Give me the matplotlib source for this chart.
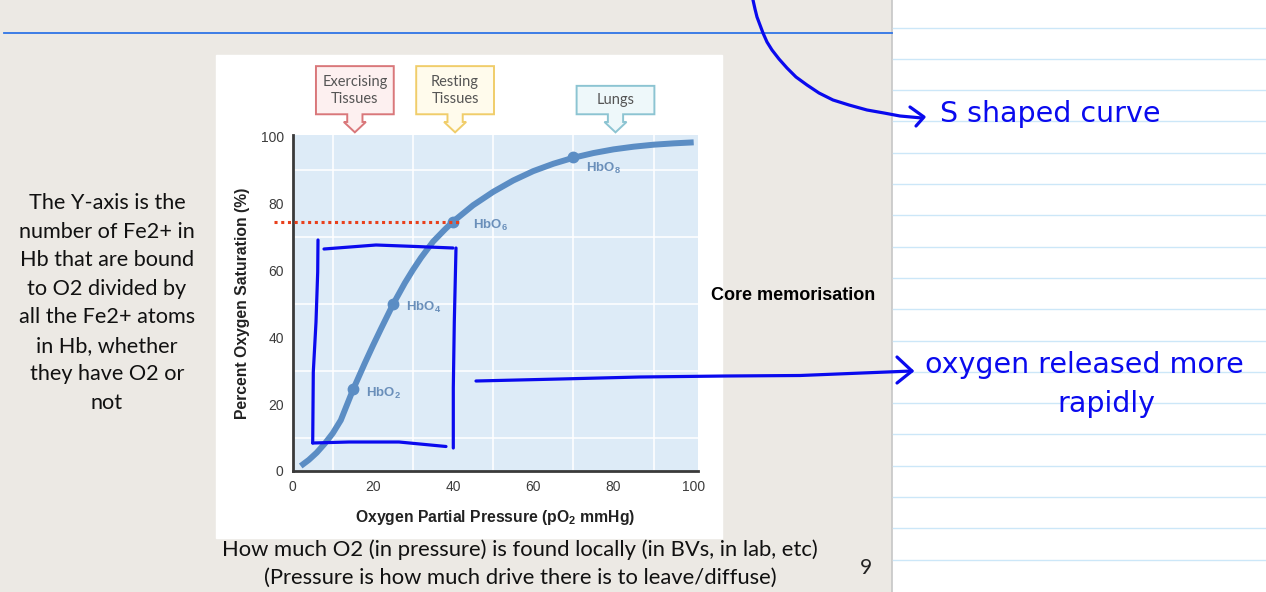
import matplotlib

matplotlib.use("Agg")
import matplotlib.pyplot as plt
from matplotlib.patches import Polygon, Rectangle

plt.rcParams["font.family"] = ["Liberation Sans", "DejaVu Sans"]
plt.rcParams["mathtext.fontset"] = "custom"
plt.rcParams["mathtext.rm"] = "Liberation Sans"
plt.rcParams["mathtext.bf"] = "Liberation Sans:bold"

# --- chart data ---------------------------------------------------------
PO2 = [2, 4, 6, 8, 10, 12, 15, 18, 20, 22, 25, 28, 30, 32, 35, 38, 40,
       45, 50, 55, 60, 65, 70, 75, 80, 85, 90, 95, 100]
SAT = [1.5, 3.3, 5.5, 8.2, 11.3, 15.2, 24.2, 32.3, 37.5, 42.5, 49.8, 56.3, 60.2,
       63.8, 68.6, 72.3, 74.6, 79.5, 83.5, 86.9, 89.7, 91.9, 93.7, 95.1, 96.2,
       97.0, 97.6, 98.0, 98.3]

STATE_LABELS = ["HbO$_\\mathbf{2}$", "HbO$_\\mathbf{4}$", "HbO$_\\mathbf{6}$", "HbO$_\\mathbf{8}$"]
STATE_PO2 = [15, 25, 40, 70]
STATE_SAT = [24.5, 50, 74.6, 93.8]

CALLOUT_TEXT = ["Exercising\nTissues", "Resting\nTissues", "Lungs"]
CALLOUT_PO2 = [15.5, 40.5, 80.5]

RESTING_SAT = 74.5
TICKS = [0, 20, 40, 60, 80, 100]

# --- slide text ----------------------------------------------------------
SIDE_NOTE = ("The Y-axis is the\nnumber of Fe2+ in\nHb that are bound\nto O2 divided by\n"
             "all the Fe2+ atoms\nin Hb, whether\nthey have O2 or\nnot")
CAPTION = ("How much O2 (in pressure) is found locally (in BVs, in lab, etc)\n"
           "(Pressure is how much drive there is to leave/diffuse)")

# handwritten pen strokes (page pixels)
INK_STROKES = [
    [(753, 0), (755, 9), (757, 17), (760, 25), (763, 33), (767, 42), (772, 50),
     (779, 59), (787, 68), (796, 77), (807, 85), (819, 93), (833, 100), (849, 105),
     (867, 110), (884, 113), (900, 116), (922, 118)],
    [(910, 107), (924, 117), (916, 126)],
    [(318, 240), (317.7, 272), (316, 322), (313.3, 372), (312.7, 443)],
    [(324, 249), (376, 245), (416, 246.5), (453, 248)],
    [(456, 248), (454.3, 322), (453.3, 388), (453.3, 448)],
    [(312.7, 443), (349, 442), (399, 442), (446, 446.5)],
    [(476, 381), (560, 379), (640, 377), (726, 376), (800, 375.5), (912, 371)],
    [(897, 357), (912, 371), (897, 383)],
]

W, H = 1266, 592
INK = "#0a0aee"
CURVE = "#5b8dc4"
BG = "#ece9e4"


def px_axes(x0, y0, x1, y1):
    return [x0 / W, 1 - y1 / H, (x1 - x0) / W, (y1 - y0) / H]


fig = plt.figure(figsize=(W / 100, H / 100), dpi=100)

# page background
page = fig.add_axes([0, 0, 1, 1])
page.set_xlim(0, W)
page.set_ylim(H, 0)
page.axis("off")
page.add_patch(Rectangle((0, 0), 892, H, color=BG, zorder=0))
page.add_patch(Rectangle((892, 0), W - 892, H, color="white", zorder=0))
page.plot([892, 892], [0, H], color="#c6c6c6", lw=1.2, zorder=1)
for k in range(18):
    y = 27.5 + 31.3 * k
    page.plot([893, W], [y, y], color="#cce7f8", lw=1.0, zorder=1)
page.plot([4, 892], [33, 33], color="#2f74e6", lw=1.3, zorder=1)
page.add_patch(Rectangle((216, 55), 506, 483, color="white", zorder=1))

page.text(107, 303, SIDE_NOTE, family="Lato", fontsize=15.6, ha="center", va="center",
          color="#111111", linespacing=1.53)
page.text(520, 564, CAPTION, family="Lato", fontsize=15.8, ha="center", va="center",
          color="#111111", linespacing=1.5)
page.text(866, 568, "9", family="Lato", fontsize=15, ha="center", va="center", color="#222222")
page.text(711, 296, "Core memorisation", fontsize=13, fontweight="bold", ha="left",
          va="center", color="black")

# chart
ax = fig.add_axes(px_axes(292.7, 135, 697.7, 471))
ax.set_facecolor("#ddebf7")
ax.set_xlim(0, 101)
ax.set_ylim(0, 100.5)
ax.set_xticks(range(0, 101, 10), minor=True)
ax.set_yticks(range(0, 101, 10), minor=True)
ax.grid(True, which="minor", color="white", lw=1.4, alpha=0.8)
ax.set_xticks(TICKS)
ax.set_yticks(TICKS)
ax.tick_params(which="both", length=0, labelsize=10, labelcolor="#3c3c3c", pad=6.5)
for side in ("top", "right"):
    ax.spines[side].set_visible(False)
for side in ("left", "bottom"):
    ax.spines[side].set_color("#3a3a3a")
    ax.spines[side].set_linewidth(2)

ax.plot(PO2, SAT, color=CURVE, lw=4.3, solid_capstyle="butt", solid_joinstyle="round", zorder=3)
ax.plot(STATE_PO2, STATE_SAT, "o", color=CURVE, ms=7.5, zorder=4)
for label, x, y in zip(STATE_LABELS, STATE_PO2, STATE_SAT):
    dy = -11 if y > 90 else -4
    ax.annotate(label, (x, y), xytext=(13 if x != 40 else 20, dy), textcoords="offset pixels",
                fontsize=9.5, fontweight="bold", color="#6a8fba", ha="left", va="center")

ax.plot([-4.6, 42], [RESTING_SAT, RESTING_SAT], ls=(0, (1, 1.2)), color="#e8401c", lw=2.2,
        clip_on=False, zorder=5)

ax.set_xlabel(r"Oxygen Partial Pressure (pO$_\mathbf{2}$ mmHg)", fontsize=11.3,
              fontweight="bold", color="#222222", va="center")
ax.xaxis.set_label_coords(0.5, -0.137)
ax.set_ylabel("Percent Oxygen Saturation (%)", fontsize=11.3, fontweight="bold",
              color="#222222", va="center")
ax.yaxis.set_label_coords(-0.1235, 0.5)

# callout boxes above the plot
box_styles = [("#d9777a", "#fdf0f0"), ("#f0cd6a", "#fffbec"), ("#8cc4d2", "#eef8fa")]
for text, cx, (edge, face) in zip(CALLOUT_TEXT, CALLOUT_PO2, box_styles):
    top = 121.1 if "\n" in text else 115.2
    bot = 106.7
    verts = [(cx - 9.7, bot), (cx - 9.7, top), (cx + 9.7, top), (cx + 9.7, bot),
             (cx + 1.9, bot), (cx + 1.9, 104.4), (cx + 2.75, 104.4), (cx, 101.3),
             (cx - 2.75, 104.4), (cx - 1.9, 104.4), (cx - 1.9, bot)]
    ax.add_patch(Polygon(verts, closed=True, facecolor=face, edgecolor=edge, lw=1.4,
                         clip_on=False, zorder=2))
    ax.text(cx, (top + bot) / 2, text, family="Lato", fontsize=10.5, color="#555555",
            ha="center", va="center", linespacing=1.3, clip_on=False)

# handwritten overlay
ink = fig.add_axes([0, 0, 1, 1], facecolor="none")
ink.set_xlim(0, W)
ink.set_ylim(H, 0)
ink.axis("off")
for stroke in INK_STROKES:
    xs, ys = zip(*stroke)
    ink.plot(xs, ys, color=INK, lw=2.3, solid_capstyle="round", solid_joinstyle="round")
ink.text(940, 122, "S shaped curve", fontsize=20.5, color=INK, ha="left", va="baseline",
         family="DejaVu Sans")
ink.text(925, 373, "oxygen released more", fontsize=20.5, color=INK, ha="left", va="baseline",
         family="DejaVu Sans")
ink.text(1057, 412, "rapidly", fontsize=20.5, color=INK, ha="left", va="baseline",
         family="DejaVu Sans")

fig.savefig("out.png", dpi=100)
